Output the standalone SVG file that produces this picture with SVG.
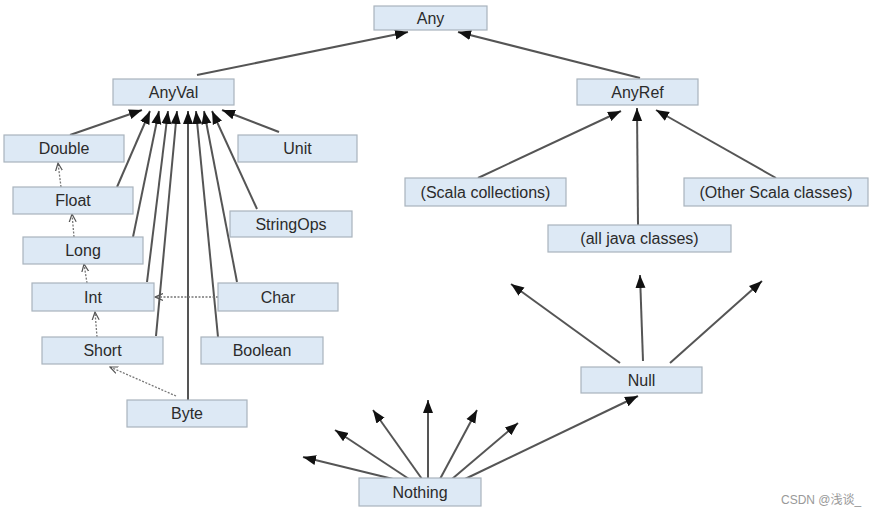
<svg xmlns="http://www.w3.org/2000/svg" width="878" height="516" viewBox="0 0 878 516">
<style>
.box rect{fill:#dde9f5;stroke:#a9b3bd;stroke-width:1.2}
.box text{font-family:"Liberation Sans",Arial,sans-serif;font-size:16px;fill:#2b2b2b;text-anchor:middle}
.s{stroke:#555;stroke-width:2;fill:none;marker-end:url(#ah)}
.d{stroke:#777;stroke-width:1.3;stroke-dasharray:2,1.5;fill:none;marker-end:url(#oh)}
.wm{font-family:"Liberation Sans","Noto Sans CJK SC",sans-serif;font-size:12px;fill:#999}
</style>
<defs>
<marker id="ah" markerUnits="userSpaceOnUse" markerWidth="14" markerHeight="12" refX="13" refY="5" orient="auto" viewBox="0 0 14 10">
<path d="M0,0 L13,5 L0,10 z" fill="#111"/>
</marker>
<marker id="oh" markerUnits="userSpaceOnUse" markerWidth="9" markerHeight="9" refX="8" refY="4" orient="auto" viewBox="0 0 9 8">
<path d="M0,0.5 L8,4 L0,7.5" fill="none" stroke="#555" stroke-width="1.2"/>
</marker>
</defs>
<g id="connectors">
<line class="s" x1="197" y1="75" x2="408" y2="32"/>
<line class="s" x1="640" y1="78" x2="458" y2="32"/>
<line class="s" x1="70" y1="135" x2="142" y2="110"/>
<line class="s" x1="117" y1="187" x2="150" y2="111"/>
<line class="s" x1="133" y1="237" x2="159" y2="111"/>
<line class="s" x1="147" y1="282" x2="168" y2="111"/>
<line class="s" x1="156" y1="336" x2="177" y2="111"/>
<line class="s" x1="188" y1="400" x2="188" y2="111"/>
<line class="s" x1="218" y1="337" x2="196" y2="111"/>
<line class="s" x1="237" y1="282" x2="204" y2="111"/>
<line class="s" x1="257" y1="209" x2="212" y2="111"/>
<line class="s" x1="279" y1="132" x2="222" y2="110"/>
<line class="d" x1="61" y1="187" x2="58" y2="163"/>
<line class="d" x1="74" y1="237" x2="72" y2="214"/>
<line class="d" x1="87" y1="283" x2="84" y2="264"/>
<line class="d" x1="97" y1="337" x2="95" y2="312"/>
<line class="d" x1="218" y1="297" x2="155" y2="297"/>
<line class="d" x1="176" y1="396" x2="110" y2="367"/>
<line class="s" x1="478" y1="178" x2="621" y2="111"/>
<line class="s" x1="638" y1="225" x2="637" y2="108"/>
<line class="s" x1="776" y1="178" x2="656" y2="110"/>
<line class="s" x1="620" y1="363" x2="511" y2="284"/>
<line class="s" x1="643" y1="361" x2="640" y2="275"/>
<line class="s" x1="670" y1="363" x2="762" y2="281"/>
<line class="s" x1="393" y1="479" x2="303" y2="457"/>
<line class="s" x1="409" y1="479" x2="335" y2="430"/>
<line class="s" x1="422" y1="479" x2="373" y2="410"/>
<line class="s" x1="428" y1="479" x2="428" y2="400"/>
<line class="s" x1="440" y1="479" x2="477" y2="410"/>
<line class="s" x1="452" y1="479" x2="518" y2="423"/>
<line class="s" x1="465" y1="479" x2="638" y2="396"/>
</g>
<g id="Any" class="box"><rect x="374" y="6" width="113" height="24"/><text x="430.5" y="23.5">Any</text></g>
<g id="AnyVal" class="box"><rect x="113" y="79" width="121" height="26"/><text x="173.5" y="97.5">AnyVal</text></g>
<g id="AnyRef" class="box"><rect x="577" y="79" width="121" height="26"/><text x="637.5" y="97.5">AnyRef</text></g>
<g id="Double" class="box"><rect x="4" y="135" width="120" height="27"/><text x="64" y="154">Double</text></g>
<g id="Unit" class="box"><rect x="238" y="135" width="119" height="27"/><text x="297.5" y="154">Unit</text></g>
<g id="Float" class="box"><rect x="13" y="187" width="120" height="27"/><text x="73" y="206">Float</text></g>
<g id="StringOps" class="box"><rect x="230" y="211" width="122" height="26"/><text x="291" y="229.5">StringOps</text></g>
<g id="Long" class="box"><rect x="23" y="237" width="120" height="27"/><text x="83" y="256">Long</text></g>
<g id="Int" class="box"><rect x="32" y="283" width="122" height="28"/><text x="93" y="302.5">Int</text></g>
<g id="Char" class="box"><rect x="218" y="283" width="120" height="28"/><text x="278" y="302.5">Char</text></g>
<g id="Short" class="box"><rect x="42" y="337" width="121" height="27"/><text x="102.5" y="356">Short</text></g>
<g id="Boolean" class="box"><rect x="201" y="337" width="122" height="27"/><text x="262" y="356">Boolean</text></g>
<g id="Byte" class="box"><rect x="127" y="400" width="120" height="27"/><text x="187" y="419">Byte</text></g>
<g id="ScalaCollections" class="box"><rect x="405" y="178" width="161" height="28"/><text x="485.5" y="197.5">(Scala collections)</text></g>
<g id="OtherScalaClasses" class="box"><rect x="684" y="178" width="184" height="28"/><text x="776" y="197.5">(Other Scala classes)</text></g>
<g id="AllJavaClasses" class="box"><rect x="548" y="225" width="183" height="27"/><text x="639.5" y="244">(all java classes)</text></g>
<g id="Null" class="box"><rect x="581" y="367" width="121" height="26"/><text x="641.5" y="385.5">Null</text></g>
<g id="Nothing" class="box"><rect x="359" y="478" width="122" height="28"/><text x="420" y="497.5">Nothing</text></g>
<text class="wm" x="781" y="504">CSDN @浅谈_</text>
</svg>
